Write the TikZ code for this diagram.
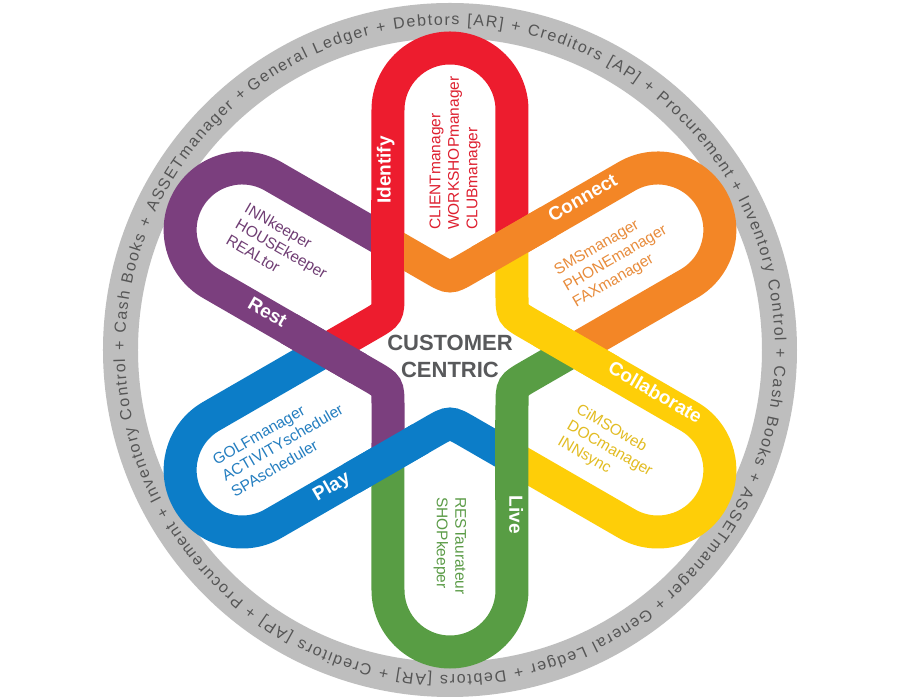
\documentclass[tikz,border=0pt]{standalone}
\usepackage{fontspec}
\setmainfont{Liberation Sans}
\usetikzlibrary{decorations.text}
\definecolor{cRed}{RGB}{237,28,46}
\definecolor{cOrange}{RGB}{243,134,38}
\definecolor{cYellow}{RGB}{254,206,8}
\definecolor{cGreen}{RGB}{88,157,68}
\definecolor{cBlue}{RGB}{12,125,200}
\definecolor{cPurple}{RGB}{123,63,126}
\definecolor{tRed}{RGB}{222,32,48}
\definecolor{tOrange}{RGB}{232,140,60}
\definecolor{tYellow}{RGB}{226,188,34}
\definecolor{tGreen}{RGB}{92,156,72}
\definecolor{tBlue}{RGB}{36,126,192}
\definecolor{tPurple}{RGB}{112,62,116}
\definecolor{ringgray}{RGB}{190,190,190}
\definecolor{ringtext}{RGB}{85,85,85}
\definecolor{ctext}{RGB}{88,89,91}
\begin{document}
\begin{tikzpicture}[x=1pt,y=1pt,
  band/.style={line width=33pt},
  lbl/.style={text=white,font=\fontsize{19}{21}\selectfont\bfseries,inner sep=0pt,anchor=mid},
  lst/.style={font=\fontsize{15.5}{18.5}\selectfont,align=left,inner sep=0pt,anchor=west},
  ctr/.style={text=ctext,font=\fontsize{22}{27}\selectfont\bfseries,inner sep=0pt,anchor=base}]
\useasboundingbox (-450,-350) rectangle (450,350);
\fill[white] (-450,-350) rectangle (450,350);
% outer ring
\draw[ringgray, line width=35pt] (0,0) circle[radius=329.5];
\path[decorate, decoration={text along path, text align=fit to path,
  text format delimiters={|}{|}, text color=ringtext,
  text={|\fontsize{16}{19}\selectfont|General Ledger + Debtors [AR] + Creditors [AP] + Procurement + Inventory Control + Cash Books + ASSETmanager + General Ledger + Debtors [AR] + Creditors [AP] + Procurement + Inventory Control + Cash Books + ASSETmanager +}}]
  (127.5:325) arc[start angle=127.5, end angle=-231.3, radius=325];
% petals
\foreach \a/\c in {90/cRed, 30/cOrange, -30/cYellow, -90/cGreen, -150/cBlue, 150/cPurple}{
  \begin{scope}[rotate=\a-90]
    \draw[band, \c] (62,107.4) -- (62,240) arc[start angle=0, end angle=180, radius=62]
      -- (-62,55.8) .. controls (-62,35.8) .. (-79.3,25.8) -- (-124,0);
  \end{scope}
}
% over-crossing segments
\foreach \a/\c in {90/cRed, 30/cOrange, -30/cYellow, -90/cGreen, -150/cBlue, 150/cPurple}{
  \begin{scope}[rotate=\a-90]
    \draw[band, \c] (-62,150) -- (-62,70);
  \end{scope}
}
% band labels
\begin{scope}[rotate=0]\node[lbl, rotate=90] (lid) at (-62,180) {Identify};\end{scope}
\begin{scope}[rotate=-60]\node[lbl, rotate=30] (lco) at (-62,191) {Connect};\end{scope}
\begin{scope}[rotate=-120]\node[lbl, rotate=-30] (lcl) at (-62,199) {Collaborate};\end{scope}
\begin{scope}[rotate=-180]\node[lbl, rotate=-90] (lli) at (-62,165) {Live};\end{scope}
\begin{scope}[rotate=120]\node[lbl, rotate=30] (lpl) at (-62,171) {Play};\end{scope}
\begin{scope}[rotate=60]\node[lbl, rotate=-30] (lre) at (-62,177) {Rest};\end{scope}
% product lists
\node[lst, text=tRed, rotate=90] (pid) at (5,120) {CLIENTmanager\\WORKSHOPmanager\\CLUBmanager};
\node[lst, text=tOrange, rotate=30] (pco) at (115,62) {SMSmanager\\PHONEmanager\\FAXmanager};
\node[lst, text=tYellow, rotate=-30] (pcl) at (118,-75) {CiMSOweb\\DOCmanager\\INNsync};
\node[lst, text=tGreen, rotate=-90] (pli) at (0,-147) {RESTaurateur\\SHOPkeeper};
\node[lst, text=tBlue, rotate=30] (ppl) at (-227,-127) {GOLFmanager\\ACTIVITYscheduler\\SPAscheduler};
\node[lst, text=tPurple, rotate=-30] (pre) at (-213,127) {INNkeeper\\HOUSEkeeper\\REALtor};
% centre
\node[ctr] (c1) at (0,-1) {CUSTOMER};
\node[ctr] (c2) at (0,-28) {CENTRIC};
\end{tikzpicture}
\end{document}
